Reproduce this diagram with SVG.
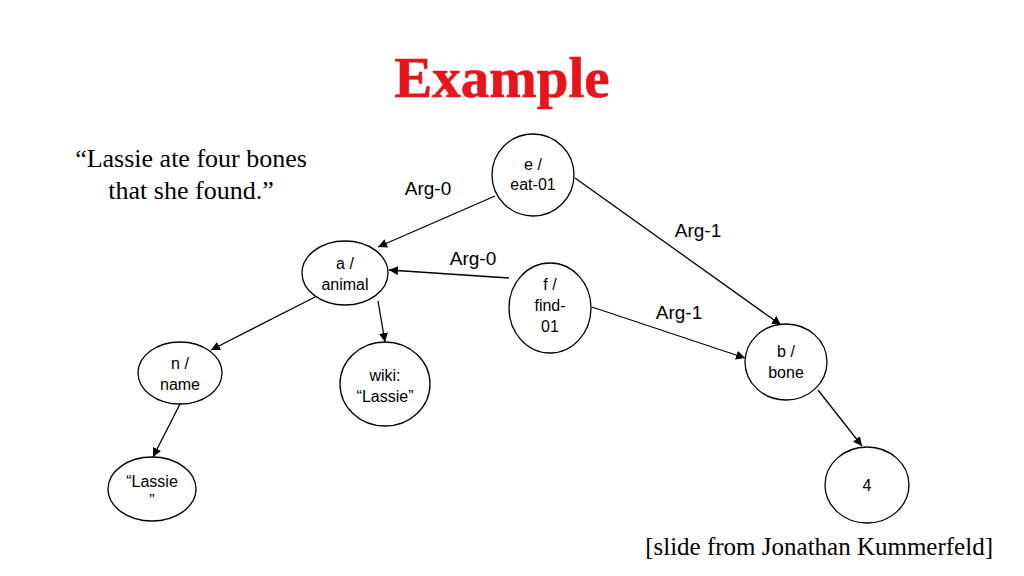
<svg xmlns="http://www.w3.org/2000/svg" width="1024" height="576" viewBox="0 0 1024 576">
<style>
.n{fill:#fff;stroke:#000;stroke-width:1.3}
.t{font-family:"Liberation Sans",Arial,sans-serif;font-size:16px;text-anchor:middle}
.l{font-family:"Liberation Sans",Arial,sans-serif;font-size:19px;text-anchor:middle}
.s{font-family:"Liberation Serif","Times New Roman",serif;font-size:26px}
.e{stroke:#000;stroke-width:1.3;fill:none;marker-end:url(#ah)}
</style>
<defs><marker id="ah" viewBox="0 0 10 10" refX="10" refY="5" markerWidth="9" markerHeight="9" markerUnits="userSpaceOnUse" orient="auto"><path d="M0,0L10,5L0,10z"/></marker></defs>
<rect width="1024" height="576" fill="#fff"/>
<text x="502" y="97" text-anchor="middle" style="font-family:'Liberation Serif',serif;font-size:57px;font-weight:bold;fill:#e8141c;stroke:#e8141c;stroke-width:0.6">Example</text>
<text class="s" x="191" y="167" text-anchor="middle">“Lassie ate four bones</text>
<text class="s" x="191" y="199" text-anchor="middle">that she found.”</text>
<text class="s" x="993" y="555" text-anchor="end" style="font-size:25px">[slide from Jonathan Kummerfeld]</text>
<g id="connectors">
<line class="e" x1="495" y1="196" x2="378" y2="247"/>
<line class="e" x1="575" y1="178" x2="781" y2="325"/>
<line class="e" x1="509" y1="278" x2="389" y2="270"/>
<line class="e" x1="592" y1="307" x2="745" y2="358"/>
<line class="e" x1="315" y1="297" x2="211" y2="350"/>
<line class="e" x1="378" y1="301" x2="385" y2="342"/>
<line class="e" x1="180" y1="404" x2="153" y2="457"/>
<line class="e" x1="818" y1="390" x2="862" y2="446"/>
<text class="l" x="428" y="195">Arg-0</text>
<text class="l" x="698" y="237">Arg-1</text>
<text class="l" x="473" y="265">Arg-0</text>
<text class="l" x="679" y="319">Arg-1</text>
</g>
<g id="e"><ellipse class="n" cx="533" cy="175" rx="41" ry="41"/><text class="t" x="533" y="170">e /</text><text class="t" x="533" y="190">eat-01</text></g>
<g id="a"><ellipse class="n" cx="345" cy="273" rx="43" ry="32"/><text class="t" x="345" y="269">a /</text><text class="t" x="345" y="290">animal</text></g>
<g id="f"><ellipse class="n" cx="550" cy="308" rx="41" ry="45"/><text class="t" x="550" y="290">f /</text><text class="t" x="550" y="311">find-</text><text class="t" x="550" y="332">01</text></g>
<g id="b"><ellipse class="n" cx="786" cy="362" rx="41" ry="38"/><text class="t" x="786" y="357">b /</text><text class="t" x="786" y="378">bone</text></g>
<g id="n"><ellipse class="n" cx="180" cy="373" rx="42" ry="31"/><text class="t" x="180" y="369">n /</text><text class="t" x="180" y="390">name</text></g>
<g id="wiki"><ellipse class="n" cx="385" cy="384" rx="45" ry="42"/><text class="t" x="385" y="381">wiki:</text><text class="t" x="385" y="402">“Lassie”</text></g>
<g id="lassie"><ellipse class="n" cx="152" cy="489" rx="44" ry="32"/><text class="t" x="152" y="487">“Lassie</text><text class="t" x="152" y="506">”</text></g>
<g id="four"><ellipse class="n" cx="867" cy="485" rx="42" ry="38"/><text class="t" x="867" y="491">4</text></g>
</svg>
